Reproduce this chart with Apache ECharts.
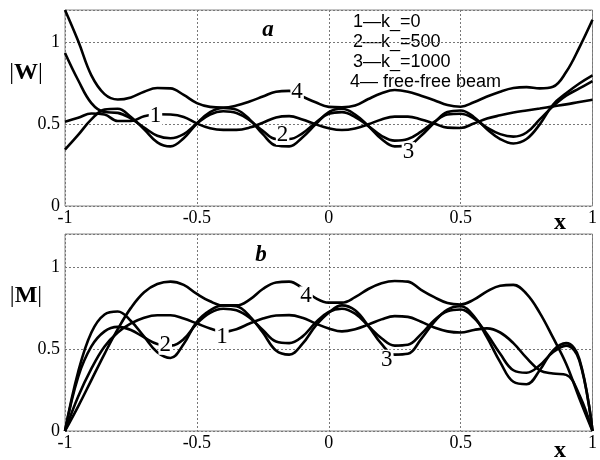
<!DOCTYPE html>
<html><head><meta charset="utf-8">
<script src="https://cdn.jsdelivr.net/npm/echarts@6/dist/echarts.min.js"></script>
<style>html,body{margin:0;padding:0;background:#fff}#c{width:600px;height:460px}</style>
</head><body><div id="c"></div>
<script>
// x positions along the beam
const X = [-1,-0.95,-0.9,-0.85,-0.8,-0.75,-0.7,-0.65,-0.6,-0.55,-0.5,-0.45,-0.4,-0.35,-0.3,-0.25,-0.2,-0.15,-0.1,-0.05,0,0.05,0.1,0.15,0.2,0.25,0.3,0.35,0.4,0.45,0.5,0.55,0.6,0.65,0.7,0.75,0.8,0.85,0.9,0.95,1];

// panel a: |W|
const W1 = [0.516,0.54,0.566,0.56,0.52,0.52,0.55,0.562,0.56,0.545,0.505,0.476,0.466,0.466,0.48,0.51,0.542,0.55,0.53,0.5,0.476,0.465,0.475,0.5,0.53,0.547,0.547,0.53,0.505,0.48,0.478,0.505,0.535,0.555,0.572,0.585,0.597,0.61,0.622,0.637,0.65];
const W2 = [0.937,0.77,0.63,0.575,0.57,0.535,0.48,0.43,0.415,0.44,0.505,0.56,0.58,0.57,0.525,0.46,0.41,0.41,0.445,0.51,0.565,0.575,0.545,0.49,0.43,0.40,0.41,0.455,0.515,0.56,0.565,0.535,0.48,0.44,0.425,0.45,0.53,0.61,0.675,0.72,0.765];
const W3 = [0.345,0.435,0.53,0.59,0.595,0.545,0.47,0.39,0.365,0.415,0.505,0.575,0.60,0.59,0.53,0.44,0.37,0.365,0.42,0.50,0.575,0.595,0.56,0.49,0.41,0.365,0.37,0.43,0.51,0.575,0.585,0.545,0.47,0.41,0.383,0.41,0.50,0.62,0.69,0.75,0.80];
const W4 = [1.20,1.01,0.80,0.685,0.652,0.665,0.70,0.722,0.72,0.68,0.63,0.607,0.603,0.615,0.64,0.67,0.70,0.705,0.67,0.635,0.607,0.605,0.615,0.655,0.69,0.71,0.70,0.675,0.648,0.618,0.608,0.635,0.67,0.70,0.722,0.728,0.72,0.73,0.82,0.97,1.14];

// panel b: |M|
const M1 = [0,0.21,0.38,0.515,0.60,0.655,0.69,0.705,0.705,0.685,0.655,0.625,0.605,0.62,0.655,0.685,0.704,0.706,0.69,0.655,0.625,0.607,0.62,0.648,0.68,0.70,0.695,0.665,0.63,0.607,0.60,0.615,0.625,0.60,0.535,0.445,0.37,0.35,0.342,0.22,0];
const M2 = [0,0.33,0.515,0.607,0.634,0.615,0.57,0.53,0.52,0.56,0.655,0.72,0.745,0.735,0.69,0.615,0.545,0.535,0.575,0.66,0.725,0.745,0.715,0.64,0.565,0.52,0.525,0.59,0.675,0.73,0.74,0.69,0.59,0.47,0.37,0.355,0.40,0.48,0.52,0.43,0];
const M3 = [0,0.36,0.60,0.71,0.728,0.67,0.575,0.48,0.445,0.53,0.665,0.735,0.765,0.76,0.70,0.60,0.49,0.465,0.53,0.64,0.72,0.765,0.735,0.64,0.53,0.465,0.47,0.56,0.665,0.74,0.76,0.70,0.57,0.42,0.30,0.285,0.37,0.49,0.535,0.44,0];
const M4 = [0,0.15,0.31,0.47,0.62,0.75,0.845,0.895,0.91,0.89,0.835,0.79,0.765,0.765,0.80,0.865,0.905,0.91,0.87,0.81,0.782,0.782,0.815,0.865,0.90,0.914,0.91,0.86,0.815,0.78,0.771,0.80,0.85,0.885,0.89,0.835,0.72,0.57,0.41,0.20,0];

const xTicks = [-1,-0.5,0,0.5,1];
const yTicks = [0,0.5,1];
const legendLines = ['1\u2014k_=0','2\u2014k_=500','3\u2014k_=1000','4\u2014 free-free beam'];
// curve number labels [text, x, y]
const labelsW = [['1',-0.657,0.55],['2',-0.175,0.435],['3',0.302,0.33],['4',-0.12,0.70]];
const labelsM = [['2',-0.62,0.525],['1',-0.405,0.575],['4',-0.086,0.82],['3',0.22,0.434]];

const serif = '"Liberation Serif","Times New Roman",serif';
const sans = '"Liberation Sans",Arial,sans-serif';
const pairs = ys => X.map((x,i)=>[x, ys[i]]);

function xAxis(i){
  return {gridIndex:i, type:'value', min:-1, max:1, interval:0.5,
    axisLine:{show:false}, axisTick:{show:false},
    splitLine:{show:true, lineStyle:{color:'#777', type:[2,2], width:1}},
    axisLabel:{fontFamily:serif, fontSize:18, color:'#000', margin:3,
      formatter: v => xTicks.some(t=>Math.abs(t-v)<1e-9) ? String(v) : ''}};
}
function yAxis(i){
  return {gridIndex:i, type:'value', min:0, max:1.2, interval:0.5,
    axisLine:{show:false}, axisTick:{show:false},
    splitLine:{show:true, lineStyle:{color:'#777', type:[2,2], width:1}},
    axisLabel:{fontFamily:serif, fontSize:18, color:'#000', margin:5, showMaxLabel:false,
      formatter: v => yTicks.some(t=>Math.abs(t-v)<1e-9) ? String(v) : ''}};
}
function curve(ys, i){
  return {type:'line', xAxisIndex:i, yAxisIndex:i, data:pairs(ys), showSymbol:false, smooth:0.4,
    lineStyle:{color:'#000', width:2.6}, silent:true, z:3};
}
function labelSeries(list, i){
  return {type:'scatter', xAxisIndex:i, yAxisIndex:i, symbolSize:0, z:10, silent:true,
    itemStyle:{color:'#000'},
    data:list.map(l=>({name:l[0], value:[l[1], l[2]]})),
    label:{show:true, position:'inside', formatter:'{b}', fontFamily:serif, fontSize:23,
      color:'#000', textBorderWidth:0, textBorderColor:'transparent', opacity:1,
      backgroundColor:'#fff', padding:[0,1], lineHeight:20}};
}

const graphics = [
  {type:'text', x:26, y:73, style:{text:'{n||}{b|W}{n||}', align:'center', verticalAlign:'middle',
    rich:{n:{fontFamily:serif, fontSize:24, fill:'#000'}, b:{fontFamily:serif, fontSize:24, fontWeight:'bold', fill:'#000'}}}},
  {type:'text', x:26, y:296, style:{text:'{n||}{b|M}{n||}', align:'center', verticalAlign:'middle',
    rich:{n:{fontFamily:serif, fontSize:24, fill:'#000'}, b:{fontFamily:serif, fontSize:24, fontWeight:'bold', fill:'#000'}}}},
  {type:'text', x:268, y:30, style:{text:'a', font:'italic bold 23px '+serif, fill:'#000', align:'center', verticalAlign:'middle'}},
  {type:'text', x:261, y:255, style:{text:'b', font:'italic bold 23px '+serif, fill:'#000', align:'center', verticalAlign:'middle'}},
  {type:'text', x:560, y:223, style:{text:'x', font:'bold 24px '+serif, fill:'#000', align:'center', verticalAlign:'middle'}},
  {type:'text', x:560, y:451, style:{text:'x', font:'bold 24px '+serif, fill:'#000', align:'center', verticalAlign:'middle'}}
];
legendLines.forEach((t,k)=>{
  graphics.push({type:'text', x:(k===3?350:353), y:22.5+k*19.7, style:{text:t, font:'18px '+sans, fill:'#000', align:'left', verticalAlign:'middle'}});
});

const chart = echarts.init(document.getElementById('c'), null, {renderer:'canvas'});
chart.setOption({
  animation:false,
  backgroundColor:'#fff',
  grid:[
    {left:65, top:10, width:537, height:196, show:true, borderColor:'#888', borderWidth:1},
    {left:65, top:234, width:537, height:197, show:true, borderColor:'#888', borderWidth:1}
  ],
  xAxis:[xAxis(0), xAxis(1)],
  yAxis:[yAxis(0), yAxis(1)],
  series:[
    curve(W1,0), curve(W2,0), curve(W3,0), curve(W4,0),
    curve(M1,1), curve(M2,1), curve(M3,1), curve(M4,1),
    labelSeries(labelsW,0), labelSeries(labelsM,1)
  ],
  graphic:graphics
});
</script></body></html>
